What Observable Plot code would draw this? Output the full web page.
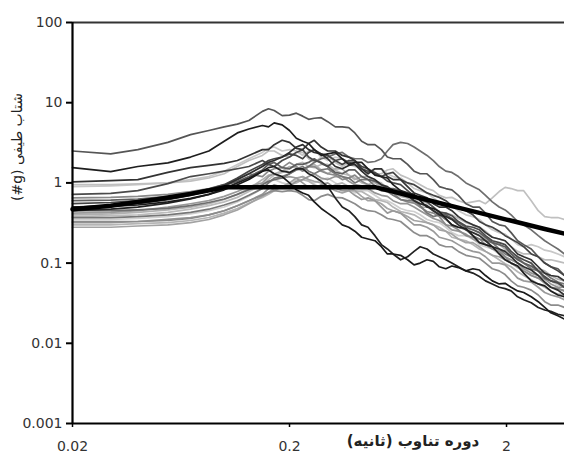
<!DOCTYPE html>
<html><head><meta charset="utf-8">
<script src="https://cdn.jsdelivr.net/npm/d3@7"></script>
<script src="https://cdn.jsdelivr.net/npm/@observablehq/plot@0.6"></script>
<style>body{margin:0;background:#fff}</style>
</head><body><div id="chart"></div>
<script>
const periods = [0.02,0.03,0.04,0.055,0.07,0.085,0.1,0.115,0.13,0.15,0.17,0.2,0.23,0.26,0.3,0.35,0.4,0.46,0.53,0.6,0.7,0.8,0.92,1.05,1.2,1.4,1.6,1.85,2.1,2.4,2.8,3.2,3.7];
const midPeriods = [0.16,0.185,0.215,0.245,0.28,0.325,0.375,0.43,0.495,0.565,0.65,0.75,0.86,0.98,1.12,1.3,1.5,1.72,1.97,2.25,2.6,3.0,3.45];

const s01 = [2.5,2.3,2.6,3.2,4.0,4.5,5.0,5.4,6.0,7.8,8.0,7.0,6.8,6.4,5.8,5.0,4.2,3.0,2.6,2.0,1.7,1.3,1.1,0.85,0.7,0.5,0.42,0.3,0.24,0.17,0.12,0.09,0.07];
const s01m = [8.4,6.9,7.4,6.2,6.5,5.0,4.9,3.3,3.0,2.1,2.0,1.4,1.3,0.9,0.82,0.55,0.5,0.33,0.29,0.19,0.15,0.1,0.085];
const s02 = [1.55,1.38,1.6,1.78,2.1,2.5,3.3,4.2,4.7,5.2,5.6,4.5,3.3,2.6,2.3,2.0,1.8,1.5,1.2,0.95,0.75,0.6,0.48,0.36,0.28,0.22,0.17,0.13,0.1,0.075,0.055,0.045,0.038];
const s02m = [5.0,5.3,3.6,3.1,2.2,2.4,1.7,1.8,1.25,1.15,0.8,0.72,0.5,0.44,0.3,0.27,0.18,0.16,0.11,0.092,0.06,0.052,0.04];
const s03 = [1.03,1.07,1.1,1.35,1.55,1.65,1.75,1.9,2.2,2.6,3.0,3.2,2.6,3.4,2.5,2.2,1.9,1.3,1.5,1.1,0.9,0.7,0.55,0.5,0.38,0.3,0.24,0.2,0.16,0.12,0.09,0.07,0.06];
const s03m = [2.6,3.4,2.7,3.1,2.8,2.5,2.1,1.5,1.5,1.2,1.1,0.75,0.65,0.5,0.45,0.33,0.28,0.21,0.19,0.13,0.11,0.075,0.068];
const s04 = [0.95,0.95,0.97,1.0,1.05,1.15,1.3,1.6,1.9,2.2,2.5,2.1,2.4,1.8,2.2,1.6,1.9,1.5,1.3,1.5,1.15,0.95,0.8,0.65,0.6,0.58,0.55,0.78,0.85,0.8,0.45,0.37,0.35];
const s04m = [2.5,2.2,2.4,2.0,2.1,1.8,1.8,1.6,1.3,1.45,1.25,1.05,0.85,0.7,0.66,0.56,0.6,0.65,0.88,0.8,0.6,0.38,0.37];
const s05 = [0.72,0.74,0.8,0.98,1.2,1.3,1.4,1.5,1.6,1.9,1.6,2.1,2.6,1.9,1.6,2.0,1.7,1.4,1.2,1.0,0.8,0.62,0.5,0.42,0.33,0.28,0.22,0.18,0.14,0.11,0.08,0.06,0.05];
const s05m = [1.7,1.9,2.4,2.1,1.8,1.9,1.8,1.5,1.35,1.05,0.95,0.68,0.58,0.43,0.39,0.29,0.26,0.19,0.17,0.12,0.1,0.068,0.057];
const s06 = [0.65,0.66,0.68,0.72,0.78,0.85,0.95,1.1,1.3,1.2,1.5,1.8,1.4,1.6,1.3,1.1,1.25,0.95,0.8,0.75,0.58,0.5,0.42,0.3,0.26,0.21,0.17,0.14,0.1,0.08,0.065,0.05,0.045];
const s06m = [1.4,1.55,1.6,1.6,1.4,1.25,1.15,1.05,0.9,0.82,0.62,0.56,0.44,0.38,0.29,0.22,0.2,0.15,0.12,0.092,0.07,0.058,0.048];
const s07 = [0.5,0.51,0.53,0.58,0.64,0.72,0.82,0.95,1.1,1.4,1.3,1.0,0.75,0.58,0.42,0.3,0.25,0.2,0.16,0.13,0.11,0.1,0.105,0.085,0.088,0.085,0.07,0.055,0.05,0.043,0.033,0.024,0.02];
const s07m = [1.45,1.2,0.82,0.7,0.48,0.36,0.28,0.21,0.19,0.13,0.125,0.095,0.11,0.09,0.092,0.08,0.082,0.06,0.056,0.045,0.038,0.028,0.022];
const s08 = [0.45,0.47,0.5,0.56,0.63,0.72,0.85,1.0,1.15,1.4,1.6,1.35,1.5,1.2,0.9,0.5,0.38,0.28,0.17,0.13,0.12,0.16,0.13,0.11,0.09,0.075,0.06,0.05,0.045,0.035,0.028,0.025,0.022];
const s08m = [1.55,1.4,1.5,1.3,1.05,0.65,0.45,0.3,0.22,0.15,0.11,0.14,0.15,0.12,0.1,0.08,0.068,0.055,0.048,0.038,0.032,0.026,0.023];
const s09 = [0.42,0.43,0.45,0.5,0.55,0.6,0.68,0.78,0.9,1.0,1.3,1.2,1.0,0.85,1.0,0.8,0.7,0.65,0.5,0.45,0.35,0.3,0.25,0.2,0.17,0.14,0.12,0.1,0.08,0.06,0.05,0.04,0.035];
const s09m = [1.2,1.15,1.15,0.88,0.95,0.86,0.8,0.62,0.6,0.42,0.42,0.3,0.28,0.21,0.19,0.15,0.135,0.1,0.095,0.065,0.058,0.043,0.038];
const s10 = [0.4,0.41,0.43,0.46,0.5,0.55,0.62,0.72,0.85,1.1,1.3,1.6,1.4,1.7,1.3,1.5,1.1,1.2,0.9,0.75,0.65,0.5,0.45,0.38,0.3,0.26,0.2,0.17,0.13,0.1,0.085,0.07,0.06];
const s10m = [1.25,1.4,1.55,1.6,1.45,1.5,1.25,1.2,1.0,0.85,0.68,0.58,0.5,0.4,0.35,0.27,0.24,0.18,0.15,0.12,0.09,0.08,0.063];
const s11 = [0.37,0.37,0.38,0.4,0.43,0.47,0.53,0.6,0.7,0.85,1.15,1.3,1.6,1.3,1.5,1.2,1.0,1.1,0.8,0.7,0.6,0.52,0.38,0.35,0.28,0.22,0.19,0.15,0.12,0.1,0.08,0.065,0.055];
const s11m = [1.0,1.2,1.5,1.4,1.45,1.3,1.15,1.1,0.92,0.78,0.62,0.6,0.42,0.4,0.3,0.26,0.2,0.18,0.13,0.115,0.085,0.075,0.058];
const s12 = [0.35,0.35,0.36,0.38,0.41,0.45,0.5,0.58,0.68,0.85,1.1,0.95,1.2,1.0,1.15,0.9,0.75,0.8,0.62,0.55,0.45,0.4,0.33,0.28,0.22,0.2,0.16,0.13,0.11,0.09,0.07,0.06,0.05];
const s12m = [1.0,1.0,1.1,1.05,1.1,1.0,0.85,0.8,0.7,0.6,0.48,0.44,0.35,0.32,0.24,0.22,0.17,0.15,0.115,0.1,0.075,0.066,0.053];
const s13 = [0.33,0.33,0.33,0.34,0.36,0.4,0.45,0.52,0.6,0.7,0.8,0.8,0.7,0.6,0.72,0.65,0.55,0.45,0.4,0.35,0.28,0.22,0.2,0.16,0.14,0.12,0.1,0.08,0.06,0.05,0.04,0.03,0.028];
const s13m = [0.76,0.78,0.78,0.62,0.68,0.66,0.6,0.48,0.44,0.36,0.33,0.24,0.22,0.17,0.16,0.125,0.115,0.085,0.072,0.052,0.046,0.033,0.03];
const s14 = [0.3,0.3,0.31,0.32,0.34,0.37,0.42,0.48,0.56,0.66,0.8,0.95,1.1,0.95,0.85,1.0,0.8,0.7,0.6,0.5,0.42,0.36,0.3,0.25,0.2,0.17,0.14,0.11,0.09,0.07,0.055,0.045,0.04];
const s14m = [0.72,0.9,1.0,1.05,0.88,0.95,0.9,0.78,0.62,0.57,0.44,0.4,0.32,0.28,0.21,0.19,0.15,0.125,0.098,0.078,0.062,0.05,0.041];
const s15 = [0.28,0.28,0.29,0.3,0.32,0.35,0.4,0.46,0.55,0.68,0.85,1.0,1.2,1.05,0.9,0.75,0.8,0.6,0.55,0.45,0.38,0.33,0.3,0.25,0.2,0.18,0.14,0.12,0.1,0.08,0.065,0.05,0.045];
const s15m = [0.76,0.9,1.15,1.1,1.0,0.8,0.8,0.68,0.6,0.48,0.42,0.34,0.32,0.26,0.23,0.18,0.16,0.125,0.11,0.088,0.07,0.056,0.048];
const s16 = [0.55,0.57,0.6,0.66,0.74,0.84,0.95,1.15,1.4,1.7,2.0,2.3,2.0,2.6,2.2,1.7,1.9,1.5,1.2,1.35,1.0,0.85,0.7,0.6,0.48,0.4,0.3,0.25,0.2,0.16,0.12,0.09,0.07];
const s16m = [1.9,2.1,2.2,2.4,2.3,1.9,1.9,1.6,1.3,1.3,1.1,0.95,0.75,0.66,0.52,0.45,0.33,0.28,0.22,0.18,0.13,0.1,0.08];
const s17 = [0.9,0.92,0.95,1.0,1.1,1.2,1.4,1.7,2.0,2.4,2.8,2.6,2.2,2.6,1.9,2.0,1.6,1.4,1.5,1.2,1.0,0.8,0.65,0.55,0.45,0.38,0.3,0.24,0.2,0.16,0.16,0.14,0.12];
const s17m = [2.7,2.5,2.5,2.5,2.1,2.1,1.7,1.6,1.5,1.3,1.15,0.85,0.75,0.58,0.52,0.4,0.35,0.26,0.23,0.17,0.17,0.145,0.13];
const s18 = [0.6,0.61,0.63,0.68,0.75,0.83,0.92,1.05,1.2,1.45,1.8,1.5,1.7,2.0,1.6,1.3,1.45,1.1,0.95,0.85,0.7,0.55,0.45,0.4,0.32,0.26,0.21,0.17,0.13,0.1,0.08,0.06,0.05];
const s18m = [1.7,1.55,1.7,1.8,1.75,1.35,1.45,1.2,1.05,0.85,0.8,0.6,0.52,0.41,0.36,0.28,0.24,0.18,0.16,0.11,0.092,0.065,0.056];
const s19 = [0.45,0.45,0.46,0.48,0.52,0.57,0.63,0.72,0.82,0.95,1.1,1.3,1.5,1.8,2.1,2.4,2.0,1.8,2.0,3.0,3.1,2.5,1.9,1.4,1.2,0.9,0.7,0.5,0.4,0.3,0.22,0.17,0.13];
const s19m = [1.05,1.15,1.45,1.6,2.0,2.3,2.1,2.0,1.85,2.5,3.2,2.8,2.2,1.6,1.35,1.0,0.82,0.58,0.46,0.33,0.26,0.19,0.15];
const s20 = [0.5,0.52,0.55,0.62,0.7,0.8,0.92,1.1,1.3,1.6,1.9,2.4,3.0,2.4,2.0,1.5,1.7,1.2,0.95,0.8,0.7,0.55,0.45,0.38,0.3,0.24,0.19,0.15,0.12,0.09,0.07,0.05,0.04];
const s20m = [1.8,2.1,2.8,2.6,2.3,1.6,1.65,1.4,1.1,0.9,0.78,0.6,0.52,0.4,0.35,0.26,0.22,0.16,0.14,0.1,0.082,0.058,0.046];
const s21 = [0.38,0.39,0.4,0.43,0.47,0.52,0.58,0.66,0.78,0.95,1.25,1.5,1.8,1.55,1.7,1.3,1.15,0.95,1.0,0.8,0.65,0.6,0.5,0.42,0.36,0.3,0.25,0.2,0.16,0.13,0.12,0.11,0.1];
const s21m = [1.1,1.35,1.7,1.6,1.7,1.45,1.25,1.0,1.05,0.85,0.75,0.6,0.56,0.44,0.4,0.32,0.28,0.21,0.19,0.14,0.13,0.11,0.105];
const s22 = [0.32,0.32,0.33,0.35,0.37,0.4,0.45,0.52,0.6,0.72,0.95,0.9,1.1,1.3,1.1,1.2,0.95,0.85,0.7,0.6,0.55,0.45,0.36,0.3,0.25,0.2,0.17,0.14,0.11,0.085,0.07,0.055,0.05];
const s22m = [0.85,0.88,1.05,1.2,1.15,1.2,1.05,0.92,0.75,0.68,0.55,0.5,0.4,0.34,0.26,0.23,0.18,0.16,0.12,0.1,0.075,0.063,0.05];

const seriesValues = [
  [s12,s12m],[s17,s17m],[s04,s04m],[s14,s14m],[s21,s21m],[s10,s10m],[s15,s15m],[s22,s22m],
  [s09,s09m],[s13,s13m],[s06,s06m],[s11,s11m],[s19,s19m],[s18,s18m],[s01,s01m],[s05,s05m],
  [s16,s16m],[s03,s03m],[s20,s20m],[s02,s02m],[s08,s08m],[s07,s07m]
];
const seriesColors = ["#cfcfcf","#c8c8c8","#c0c0c0","#b5b5b5","#bcbcbc","#b0b0b0","#a3a3a3","#959595","#999999","#8c8c8c","#8a8a8a","#777777","#6e6e6e","#5e5e5e","#555555","#4a4a4a","#444444","#333333","#2e2e2e","#1e1e1e","#222222","#1a1a1a"];

const designPeriods = [0.02,0.03,0.04,0.05,0.06,0.07,0.08,0.09,0.1,0.5,0.6,0.7,0.85,1,1.25,1.5,2,2.5,3,3.7];
const designValues = [0.47,0.52,0.58,0.63,0.68,0.73,0.78,0.83,0.88,0.88,0.78,0.70,0.62,0.554,0.477,0.423,0.349,0.301,0.266,0.233];

const yTicks = [0.001,0.01,0.1,1,10,100];
const yTickLabels = ["0.001","0.01","0.1","1","10","100"];
const xTicks = [0.02,0.2,2];
const xTickLabels = ["0.02","0.2","2"];
const yTitle = "شتاب طیفی (g#)";
const xTitle = "دوره تناوب (ثانیه)";

const records = seriesValues.flatMap(([main, mid], i) => {
  const pts = periods.map((T, j) => ({T, v: main[j]}))
    .concat(midPeriods.map((T, j) => ({T, v: mid[j]})));
  pts.sort((a, b) => a.T - b.T);
  return pts.map(p => ({...p, id: i, c: seriesColors[i]}));
});
const design = designPeriods.map((T, i) => ({T, v: designValues[i]}));

const plot = Plot.plot({
  width: 564, height: 455,
  marginLeft: 72, marginRight: 0, marginTop: 22, marginBottom: 32,
  x: {type: "log", domain: [0.02, 3.7]},
  y: {type: "log", domain: [0.001, 100]},
  color: {type: "identity"},
  style: {fontFamily: "DejaVu Sans", fontSize: "14px", color: "#333", background: "#fff"},
  marks: [
    Plot.line(records, {x: "T", y: "v", z: "id", stroke: "c", strokeWidth: 1.7, curve: "linear"}),
    Plot.line(design, {x: "T", y: "v", stroke: "#000", strokeWidth: 4.5}),
    Plot.ruleY([100], {stroke: "#333", strokeWidth: 2}),
    Plot.ruleY([0.001], {stroke: "#000", strokeWidth: 2.2}),
    Plot.ruleX([0.02], {stroke: "#000", strokeWidth: 2.2}),
    Plot.axisY({ticks: yTicks, tickFormat: d => yTickLabels[yTicks.indexOf(d)], tickSize: 6, tickPadding: 4, fontSize: 14, label: null, stroke: "#000", strokeWidth: 2, fill: "#333"}),
    Plot.axisX({ticks: xTicks, tickFormat: d => xTickLabels[xTicks.indexOf(d)], tickSize: 4, tickPadding: 14, fontSize: 14, label: null, stroke: "#000", strokeWidth: 1.5, fill: "#333"})
  ]
});
document.getElementById("chart").append(plot);

const svg = d3.select(plot);
svg.append("text")
  .attr("transform", "translate(17,147) rotate(-90)")
  .attr("text-anchor", "middle")
  .attr("dominant-baseline", "central")
  .attr("direction", "rtl")
  .attr("font-family", "DejaVu Sans")
  .attr("font-size", 14)
  .attr("fill", "#222")
  .text(yTitle);
svg.append("text")
  .attr("x", 413).attr("y", 441)
  .attr("text-anchor", "middle")
  .attr("dominant-baseline", "central")
  .attr("direction", "rtl")
  .attr("font-family", "DejaVu Sans")
  .attr("font-size", 15)
  .attr("font-weight", "bold")
  .attr("fill", "#222")
  .text(xTitle);
</script>
</body></html>
